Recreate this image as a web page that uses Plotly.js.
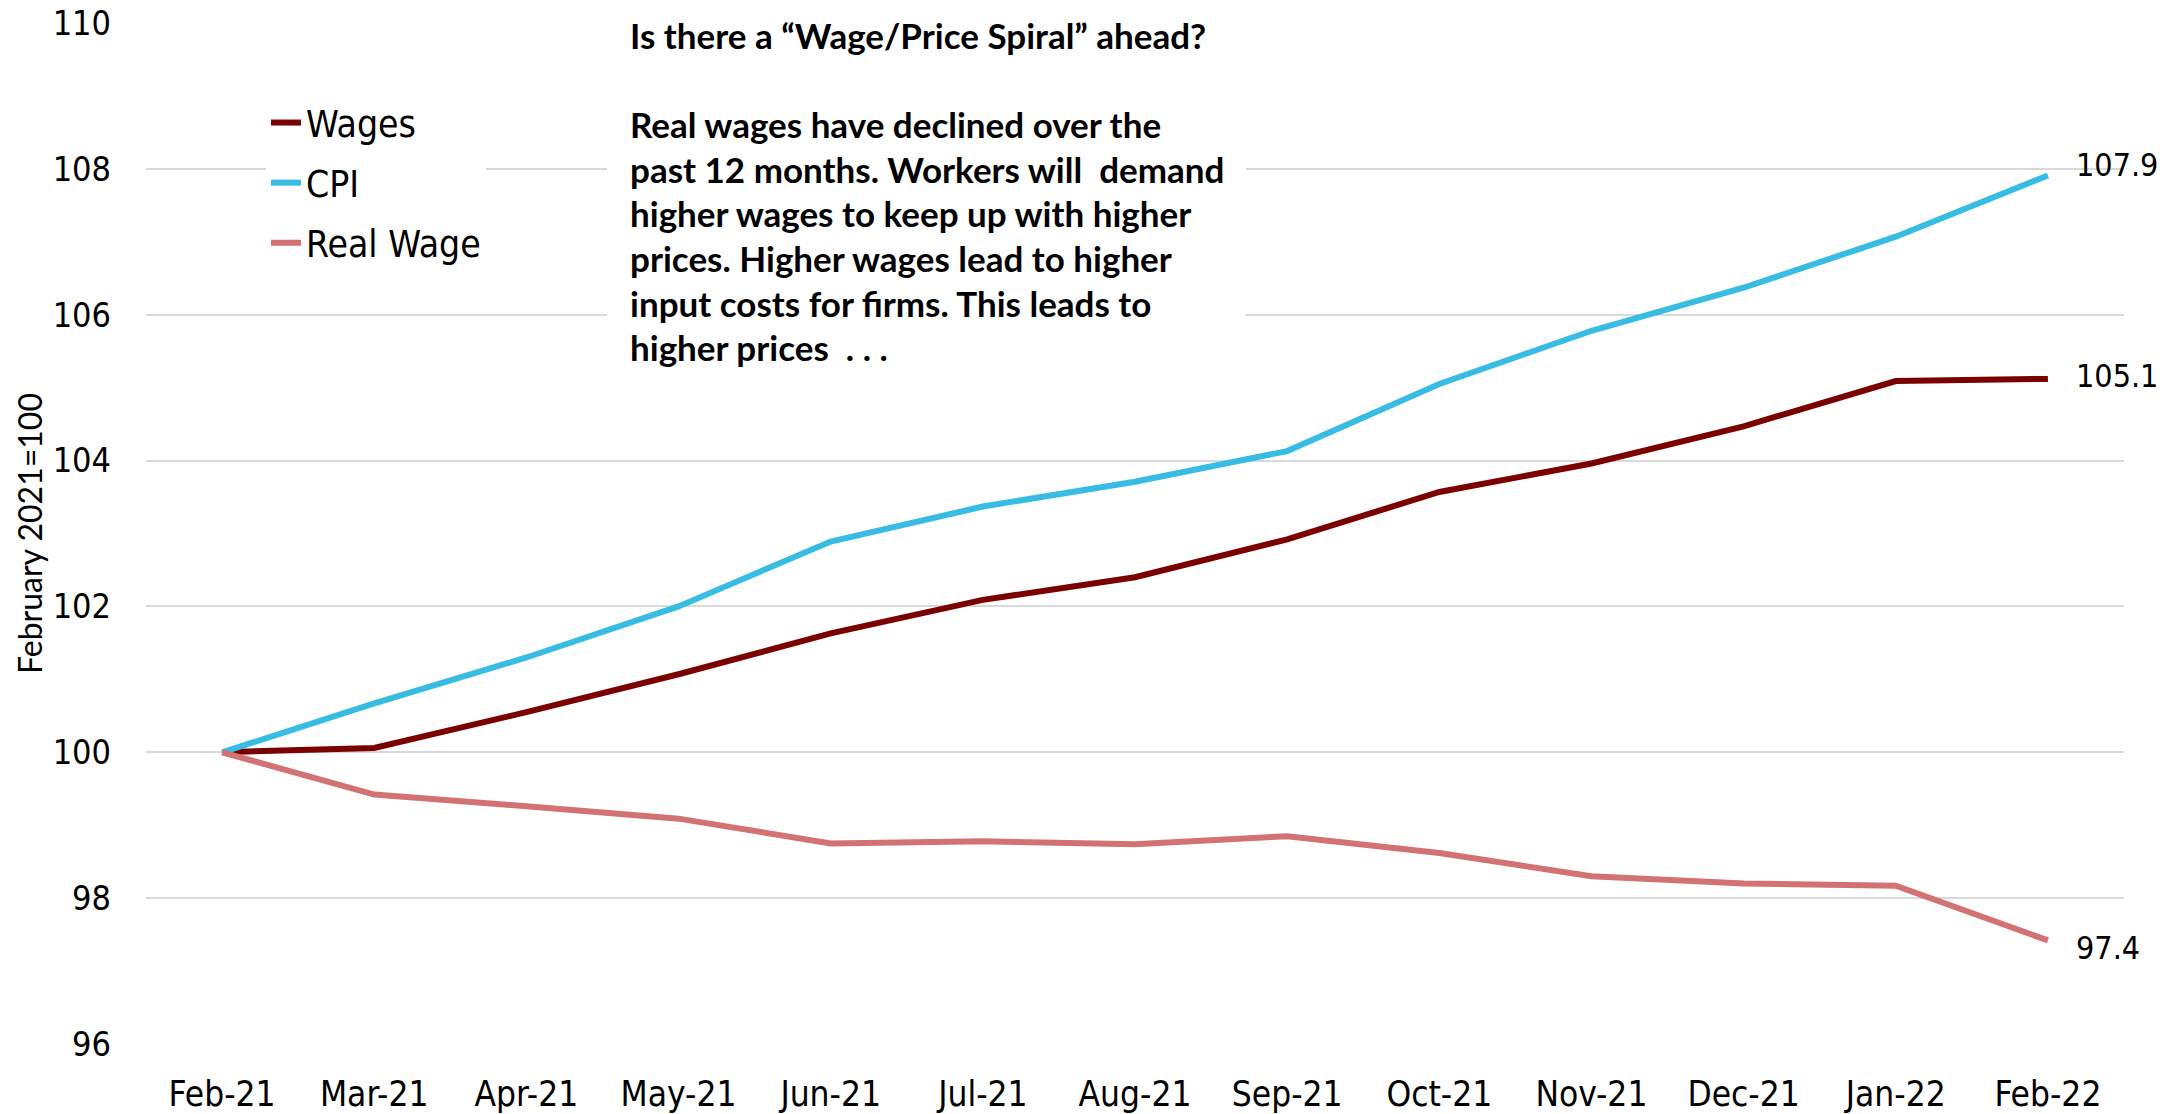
<!DOCTYPE html>
<html>
<head>
<meta charset="utf-8">
<script src="https://cdn.plot.ly/plotly-3.0.1.min.js"></script>
<style>html,body{margin:0;padding:0;background:#fff;}#chart{width:2177px;height:1114px;}</style>
</head>
<body>
<div id="chart"></div>
<script>
// ---- data ----
const months = ["Feb-21","Mar-21","Apr-21","May-21","Jun-21","Jul-21","Aug-21","Sep-21","Oct-21","Nov-21","Dec-21","Jan-22","Feb-22"];
const wages = [100, 100.06, 100.55, 101.07, 101.63, 102.09, 102.40, 102.92, 103.57, 103.96, 104.47, 105.09, 105.12];
const cpi   = [100, 100.67, 101.30, 102.00, 102.89, 103.37, 103.71, 104.13, 105.05, 105.78, 106.37, 107.07, 107.91];
const realWage = [100, 99.42, 99.26, 99.09, 98.75, 98.78, 98.74, 98.85, 98.62, 98.30, 98.20, 98.17, 97.42];
const seriesNames = ["Wages", "CPI", "Real Wage"];
const yTicks = [96, 98, 100, 102, 104, 106, 108, 110];
const yAxisTitle = "February 2021=100";
const noteLines = [
  "Is there a \u201cWage/Price Spiral\u201d ahead?",
  "",
  "Real wages have declined over the",
  "past 12 months. Workers will\u00a0 demand",
  "higher wages to keep up with higher",
  "prices. Higher wages lead to higher",
  "input costs for firms. This leads to",
  "higher prices\u00a0 . . ."
];

// ---- styles ----
const colors = ["#7B0000", "#38BCE3", "#D27272"];
const tickFont = "DejaVu Sans Condensed, sans-serif";
const noteFont = "Lato, Open Sans, sans-serif";
const W = 2177, H = 1114;
const M = {l: 146, r: 53, t: 23, b: 70};
const plotH = H - M.t - M.b;
const pw = W - M.l - M.r;
const labelYShift = [3, 10, -8];

const allSeries = [wages, cpi, realWage];
const traces = allSeries.map((vals, i) => ({
  type: "scatter",
  mode: "lines",
  x: months,
  y: vals,
  name: seriesNames[i],
  legendgroup: "g" + i,
  line: {color: colors[i], width: 6},
  hoverinfo: "x+y+name"
}));

const annotations = [];
// end-of-line value labels
allSeries.forEach((vals, i) => {
  const last = vals.length - 1;
  annotations.push({
    x: months[last], y: vals[last], xref: "x", yref: "y",
    text: vals[last].toFixed(1),
    showarrow: false, xanchor: "left", yanchor: "middle",
    xshift: 26, yshift: labelYShift[i],
    font: {family: tickFont, size: 32, color: "#000"}
  });
});
// note text lines
const noteX = (628 - M.l) / pw;
noteLines.forEach((t, k) => {
  if (!t) return;
  const yc = 35 + k * 44.6;
  annotations.push({
    x: noteX, y: (H - M.b - yc) / plotH, xref: "paper", yref: "paper",
    text: "<b>" + t + "</b>", showarrow: false, xanchor: "left", yanchor: "middle",
    font: {family: noteFont, size: 35, color: "#000"}
  });
});

const shapes = [{
  type: "rect", xref: "paper", yref: "paper", layer: "above",
  x0: (607 - M.l) / pw, x1: (1246 - M.l) / pw,
  y0: (H - M.b - 385) / plotH, y1: (H - M.b - 8) / plotH,
  fillcolor: "#ffffff", line: {width: 0}
}];

const layout = {
  width: W, height: H,
  margin: M,
  paper_bgcolor: "#fff", plot_bgcolor: "#fff",
  showlegend: true,
  legend: {
    x: (266 - M.l) / pw, xanchor: "left",
    y: (H - M.b - 92) / plotH, yanchor: "top",
    bgcolor: "#ffffff", borderwidth: 0,
    traceorder: "grouped", tracegroupgap: 9,
    font: {family: tickFont, size: 37, color: "#000"}
  },
  xaxis: {
    type: "category", range: [-0.5, 12.5],
    showgrid: false, zeroline: false, showline: false, ticks: "",
    ticklabelstandoff: 26,
    tickfont: {family: tickFont, size: 35, color: "#000"},
    automargin: false, fixedrange: true
  },
  yaxis: {
    range: [96, 110], tickvals: yTicks, ticktext: yTicks.map(String),
    showgrid: true, gridcolor: "#D9D9D9", gridwidth: 2,
    zeroline: false, showline: false, ticks: "",
    ticklabelstandoff: 34,
    tickfont: {family: tickFont, size: 34, color: "#000"},
    title: {text: yAxisTitle, font: {family: noteFont, size: 32, color: "#000"}, standoff: 0},
    automargin: false, fixedrange: true
  },
  annotations: annotations,
  shapes: shapes
};

Plotly.newPlot("chart", traces, layout, {displayModeBar: false, staticPlot: true});
</script>
</body>
</html>
